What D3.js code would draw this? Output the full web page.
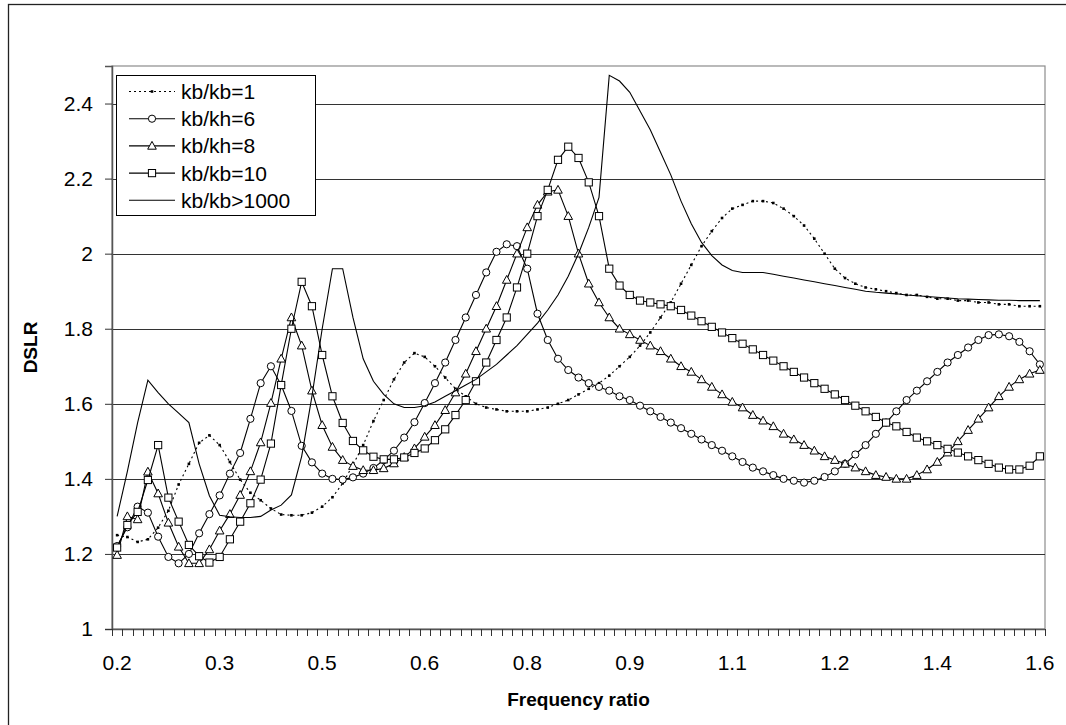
<!DOCTYPE html>
<html><head><meta charset="utf-8">
<script src="https://cdn.jsdelivr.net/npm/d3@7"></script>
<style>html,body{margin:0;padding:0;background:#fff;}svg{display:block;font-family:"Liberation Sans",Arial,sans-serif;}</style>
</head><body>
<svg id="c" width="1066" height="725"></svg>
<script>
// categories: 91 frequency ratios from 0.2 to 1.6 (index-based category axis)
const categories = d3.range(91);
const tickLabels = ["0.2","0.3","0.5","0.6","0.8","0.9","1.1","1.2","1.4","1.6"];
const yTicks = [1,1.2,1.4,1.6,1.8,2,2.2,2.4];

const k1 = [1.25,1.245,1.232,1.239,1.27,1.315,1.385,1.44,1.496,1.516,
1.49,1.445,1.398,1.363,1.343,1.321,1.305,1.303,1.303,1.31,
1.326,1.351,1.388,1.437,1.49,1.554,1.61,1.665,1.71,1.735,
1.725,1.70,1.67,1.64,1.62,1.60,1.59,1.585,1.58,1.58,
1.58,1.585,1.59,1.60,1.61,1.625,1.64,1.655,1.675,1.70,
1.725,1.755,1.79,1.83,1.87,1.92,1.97,2.02,2.06,2.095,
2.12,2.13,2.14,2.14,2.135,2.12,2.10,2.075,2.04,2.0,
1.96,1.935,1.92,1.91,1.905,1.90,1.895,1.89,1.89,1.885,
1.88,1.88,1.875,1.875,1.87,1.87,1.865,1.865,1.86,1.86,1.86];

const k6 = [1.221,1.271,1.326,1.31,1.246,1.192,1.175,1.20,1.255,1.306,
1.356,1.414,1.469,1.56,1.655,1.70,1.65,1.581,1.488,1.444,
1.414,1.40,1.398,1.404,1.414,1.429,1.45,1.475,1.51,1.551,
1.602,1.655,1.71,1.77,1.83,1.89,1.95,2.005,2.025,2.02,
1.96,1.84,1.77,1.72,1.69,1.67,1.655,1.645,1.635,1.62,
1.61,1.595,1.58,1.565,1.55,1.535,1.52,1.505,1.49,1.475,
1.46,1.445,1.43,1.42,1.41,1.40,1.395,1.39,1.395,1.405,
1.42,1.44,1.465,1.49,1.52,1.55,1.58,1.61,1.635,1.66,
1.685,1.71,1.73,1.75,1.77,1.783,1.785,1.78,1.765,1.74,1.705];

const k8 = [1.197,1.30,1.292,1.419,1.361,1.283,1.219,1.175,1.175,1.212,
1.262,1.306,1.357,1.42,1.497,1.602,1.72,1.83,1.755,1.635,
1.543,1.485,1.45,1.434,1.423,1.423,1.428,1.441,1.458,1.481,
1.512,1.543,1.583,1.63,1.68,1.74,1.80,1.86,1.93,2.00,
2.07,2.13,2.165,2.17,2.10,2.00,1.92,1.87,1.83,1.80,
1.785,1.77,1.755,1.74,1.72,1.70,1.685,1.665,1.645,1.625,
1.605,1.59,1.57,1.555,1.54,1.52,1.505,1.49,1.475,1.46,
1.45,1.44,1.43,1.42,1.41,1.405,1.40,1.40,1.41,1.425,
1.445,1.47,1.50,1.53,1.56,1.59,1.62,1.645,1.665,1.68,1.69];

const k10 = [1.217,1.277,1.312,1.397,1.49,1.35,1.286,1.224,1.194,1.177,
1.192,1.239,1.286,1.335,1.398,1.494,1.65,1.80,1.925,1.86,
1.73,1.62,1.549,1.501,1.476,1.459,1.452,1.452,1.457,1.469,
1.481,1.503,1.532,1.57,1.61,1.66,1.71,1.77,1.83,1.91,
2.00,2.10,2.17,2.25,2.285,2.255,2.19,2.10,1.96,1.915,
1.89,1.875,1.87,1.865,1.86,1.85,1.835,1.82,1.805,1.79,
1.775,1.76,1.745,1.73,1.715,1.70,1.685,1.67,1.655,1.64,
1.625,1.61,1.595,1.58,1.565,1.55,1.54,1.525,1.51,1.50,
1.49,1.48,1.47,1.46,1.45,1.44,1.43,1.425,1.425,1.435,1.46];

const k1000 = [1.30,1.42,1.55,1.663,1.63,1.60,1.575,1.55,1.44,1.355,
1.303,1.299,1.297,1.297,1.30,1.317,1.33,1.357,1.46,1.62,
1.80,1.96,1.96,1.83,1.72,1.66,1.625,1.60,1.59,1.59,
1.595,1.605,1.62,1.635,1.65,1.665,1.685,1.705,1.73,1.755,
1.785,1.815,1.85,1.89,1.94,2.00,2.07,2.15,2.475,2.46,
2.43,2.38,2.33,2.27,2.21,2.14,2.08,2.03,1.995,1.97,
1.955,1.95,1.95,1.95,1.945,1.94,1.935,1.93,1.925,1.92,
1.915,1.91,1.905,1.90,1.897,1.895,1.893,1.89,1.888,1.886,
1.884,1.882,1.88,1.879,1.878,1.877,1.876,1.876,1.875,1.875,1.875];

const seriesNames = ["kb/kb=1","kb/kh=6","kb/kh=8","kb/kb=10","kb/kb>1000"];

const svg = d3.select("#c");
const L = 112, R = 1045, T = 66, B = 629;

// outer chart border
svg.append("rect").attr("x",8.5).attr("y",4.5).attr("width",1080).attr("height",740)
  .attr("fill","#fff").attr("stroke","#222").attr("stroke-width",1.3);

const x = d3.scaleBand().domain(categories).range([L, R]);
const xc = i => x(i) + x.bandwidth()/2;
const y = d3.scaleLinear().domain([1, 2.5]).range([B, T]);

// plot area
svg.append("rect").attr("x",L).attr("y",T).attr("width",R-L).attr("height",B-T)
  .attr("fill","#fff").attr("stroke","#8c8c8c").attr("stroke-width",1.2);

// gridlines
svg.append("g").selectAll("line").data(yTicks.filter(v=>v>1)).join("line")
  .attr("x1",L).attr("x2",R).attr("y1",d=>Math.round(y(d))+0.5).attr("y2",d=>Math.round(y(d))+0.5)
  .attr("stroke","#333").attr("stroke-width",1);

// y axis
const yAxis = d3.axisLeft(y).tickValues(yTicks).tickSize(7).tickPadding(12)
  .tickFormat(d => d3.format("")(Math.round(d*10)/10));
const gy = svg.append("g").attr("transform",`translate(${L},0)`).call(yAxis);
gy.select(".domain").attr("stroke","#555").attr("stroke-width",1.5);
gy.selectAll(".tick line").attr("stroke","#333");
gy.selectAll("text").attr("font-size",21).attr("fill","#000").attr("font-family","Liberation Sans, Arial, sans-serif");

// x axis (category ticks at boundaries)
const bounds = d3.range(92).map(k => L + k * x.step());
svg.append("line").attr("x1",L).attr("x2",R).attr("y1",B+0.5).attr("y2",B+0.5).attr("stroke","#555").attr("stroke-width",1.5);
svg.append("g").selectAll("line").data(bounds).join("line")
  .attr("x1",d=>Math.round(d)+0.5).attr("x2",d=>Math.round(d)+0.5).attr("y1",B).attr("y2",B+7)
  .attr("stroke","#333").attr("stroke-width",1);
svg.append("g").selectAll("text").data(tickLabels).join("text")
  .attr("x",(d,k)=>xc(k*10)).attr("y",670).attr("text-anchor","middle")
  .attr("font-size",21).attr("fill","#000").text(d=>d);

// axis titles
svg.append("text").attr("x",(L+R)/2).attr("y",706).attr("text-anchor","middle")
  .attr("font-size",19).attr("font-weight","bold").text("Frequency ratio");
svg.append("text").attr("transform",`translate(37,${(T+B)/2}) rotate(-90)`).attr("text-anchor","middle")
  .attr("font-size",19).attr("font-weight","bold").text("DSLR");

const line = d3.line().x((d,i)=>xc(i)).y(d=>y(d));

function drawMarkers(g, data, type){
  const m = g.append("g");
  data.forEach((v,i)=>{ markerAt(m, type, xc(i), y(v)); });
}
function markerAt(m, type, cx, cy){
  if(type==="circle") m.append("circle").attr("cx",cx).attr("cy",cy).attr("r",3.6).attr("fill","#fff").attr("stroke","#000").attr("stroke-width",1);
  else if(type==="triangle") m.append("path").attr("d",`M${cx},${cy-4.5}L${cx+4.3},${cy+3.3}L${cx-4.3},${cy+3.3}Z`).attr("fill","#fff").attr("stroke","#000").attr("stroke-width",1);
  else if(type==="square") m.append("rect").attr("x",cx-3.6).attr("y",cy-3.6).attr("width",7.2).attr("height",7.2).attr("fill","#fff").attr("stroke","#000").attr("stroke-width",1);
  else if(type==="dot") m.append("rect").attr("x",cx-1.3).attr("y",cy-1.3).attr("width",2.6).attr("height",2.6).attr("fill","#000");
}

const series = [
  {name:seriesNames[0], data:k1, dash:"2,3", marker:"dot"},
  {name:seriesNames[1], data:k6, dash:null, marker:"circle"},
  {name:seriesNames[2], data:k8, dash:null, marker:"triangle"},
  {name:seriesNames[3], data:k10, dash:null, marker:"square"},
  {name:seriesNames[4], data:k1000, dash:null, marker:null}
];

series.forEach(s=>{
  const g = svg.append("g");
  g.append("path").datum(s.data).attr("d",line).attr("fill","none").attr("stroke","#000")
    .attr("stroke-width",1.1).attr("stroke-dasharray",s.dash);
  if(s.marker) drawMarkers(g, s.data, s.marker);
});

// legend
const lg = svg.append("g");
lg.append("rect").attr("x",116.5).attr("y",75.5).attr("width",199).attr("height",140)
  .attr("fill","#fff").attr("stroke","#000").attr("stroke-width",1);
series.forEach((s,k)=>{
  const cy = 91.5 + k*27.2;
  lg.append("line").attr("x1",129).attr("x2",175).attr("y1",cy).attr("y2",cy).attr("stroke","#000")
    .attr("stroke-width",1.1).attr("stroke-dasharray",s.dash);
  if(s.marker) markerAt(lg, s.marker, 152, cy);
  lg.append("text").attr("x",181).attr("y",cy+7.5).attr("font-size",21).text(s.name);
});
</script>
</body></html>
